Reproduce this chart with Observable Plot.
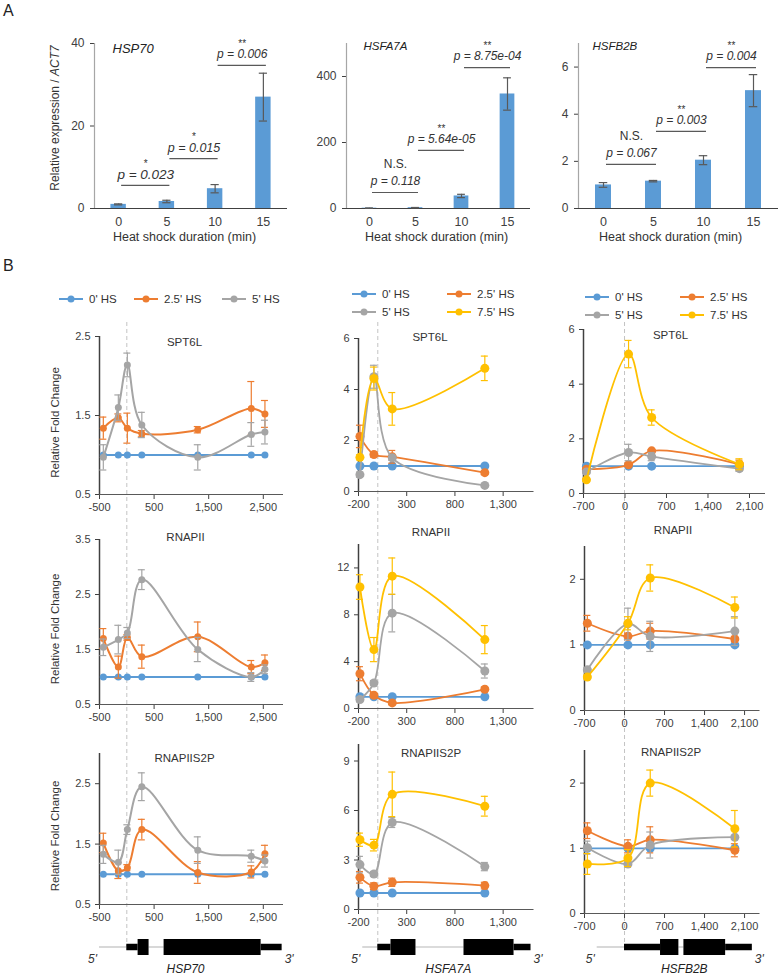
<!DOCTYPE html>
<html><head><meta charset="utf-8">
<script src="https://cdn.jsdelivr.net/npm/d3@7"></script>
<script src="https://cdn.jsdelivr.net/npm/@observablehq/plot@0.6"></script>
<style>
body{margin:0;background:#fff;}
#fig{position:relative;width:781px;height:975px;font-family:Arial,"Liberation Sans",Helvetica,sans-serif;color:#222;overflow:hidden;background:#fff}
#fig svg{overflow:visible}
.lab{position:absolute;font-size:16px;line-height:16px;color:#222}
.leg{position:absolute;display:flex;align-items:center;gap:4px;font-size:11.5px;line-height:14px;color:#333;white-space:nowrap}
.ylab{position:absolute;font-size:12px;color:#333;white-space:nowrap;transform:translate(-50%,-50%) rotate(-90deg)}
</style></head><body><div id="fig"></div>
<script>
// ---------- Panel A data ----------
const durations = ["0", "5", "10", "15"];
const hsp70Expr = [1.0, 1.7, 4.8, 27.0];
const hsp70Err = [0.12, 0.3, 1.0, 5.8];
const hsfa7aExpr = [1.0, 2.5, 38, 347];
const hsfa7aErr = [0.3, 0.6, 5, 49];
const hsfb2bExpr = [1.0, 1.16, 2.05, 5.0];
const hsfb2bErr = [0.1, 0.03, 0.19, 0.68];
const hsp70P = ["p = 0.023", "p = 0.015", "p = 0.006"];
const hsp70Sig = ["*", "*", "**"];
const hsfa7aP = ["p = 0.118", "p = 5.64e-05", "p = 8.75e-04"];
const hsfa7aSig = ["N.S.", "**", "**"];
const hsfb2bP = ["p = 0.067", "p = 0.003", "p = 0.004"];
const hsfb2bSig = ["N.S.", "**", "**"];

// ---------- Panel B data ----------
const seriesNames = ["0' HS", "2.5' HS", "5' HS", "7.5' HS"];
const seriesColors = ["#5b9bd5", "#ed7d31", "#a5a5a5", "#ffc000"];
const hsp70Pos = [-430, -155, 10, 275, 1300, 2280, 2530];
const hsfa7aPos = [-185, -40, 150, 1110];
const hsfb2bPos = [-650, 60, 450, 1930];

const hsp70SPT6L = [[1,1,1,1,1,1,1],[1.34,1.47,1.34,1.27,1.32,1.59,1.52],[0.97,1.60,2.14,1.38,0.97,1.26,1.29]];
const hsp70SPT6LErr = [[0,0,0,0,0,0,0],[0.14,0.05,0.19,0.04,0.04,0.34,0.17],[0.16,0.16,0.15,0.16,0.16,0.15,0.15]];
const hsp70RNAPII = [[1,1,1,1,1,1,1],[1.70,1.18,1.72,1.37,1.73,1.18,1.26],[1.54,1.68,1.80,2.77,1.50,1.00,1.14]];
const hsp70RNAPIIErr = [[0,0,0,0,0,0,0],[0.18,0.2,0.05,0.21,0.27,0.12,0.14],[0.15,0.26,0.1,0.18,0.22,0.08,0.08]];
const hsp70S2P = [[1,1,1,1,1,1,1],[1.52,1.06,1.11,1.74,1.03,1.04,1.34],[1.33,1.20,1.74,2.45,1.40,1.30,1.22]];
const hsp70S2PErr = [[0,0,0,0,0,0,0],[0.16,0.13,0.05,0.17,0.18,0.1,0.14],[0.15,0.2,0.08,0.23,0.22,0.1,0.1]];

const hsfa7aSPT6L = [[1,1,1,1],[2.16,1.45,1.36,0.74],[0.66,4.50,1.32,0.24],[1.34,4.43,3.24,4.83]];
const hsfa7aSPT6LErr = [[0,0,0,0],[0.44,0.1,0.25,0.08],[0.1,0.45,0.1,0.05],[0.1,0.45,0.64,0.48]];
const hsfa7aRNAPII = [[1,1,1,1],[2.97,1.13,0.48,1.64],[0.76,2.18,8.14,3.2],[10.37,5.03,11.3,5.88]];
const hsfa7aRNAPIIErr = [[0,0,0,0],[0.6,0.2,0.15,0.2],[0.2,0.2,1.6,0.6],[1.05,1.03,1.55,1.2]];
const hsfa7aS2P = [[1,1,1,1],[1.95,1.41,1.65,1.45],[2.72,2.15,5.27,2.6],[4.23,3.9,6.98,6.26]];
const hsfa7aS2PErr = [[0,0,0,0],[0.35,0.2,0.25,0.2],[0.5,0.15,0.3,0.25],[0.4,0.35,1.35,0.6]];

const hsfb2bSPT6L = [[1,1,1,1],[0.89,1.05,1.56,1.07],[0.79,1.50,1.35,0.91],[0.50,5.10,2.78,1.07]];
const hsfb2bSPT6LErr = [[0,0,0,0],[0.05,0.05,0.05,0.15],[0.05,0.3,0.15,0.1],[0.05,0.5,0.28,0.2]];
const hsfb2bRNAPII = [[1,1,1,1],[1.33,1.13,1.21,1.09],[0.62,1.32,1.13,1.21],[0.51,1.33,2.02,1.57]];
const hsfb2bRNAPIIErr = [[0,0,0,0],[0.12,0.05,0.12,0.04],[0.03,0.24,0.23,0.22],[0.03,0.1,0.2,0.16]];
const hsfb2bS2P = [[1,1,1,1],[1.27,1.03,1.13,0.97],[1.01,0.76,1.05,1.17],[0.76,0.85,2.0,1.3]];
const hsfb2bS2PErr = [[0,0,0,0],[0.12,0.1,0.2,0.1],[0.1,0.05,0.2,0.03],[0.16,0.13,0.2,0.28]];

// gene structures (bp relative to TSS): [start, end, feature]
const hsp70Gene = [[-500,0,"flank"],[0,207,"utr"],[207,408,"exon"],[408,683,"intron"],[683,2460,"exon"],[2460,2845,"utr"]];
const hsfa7aGene = [[-156,0,"flank"],[0,137,"utr"],[137,396,"exon"],[396,894,"intron"],[894,1413,"exon"],[1413,1589,"utr"]];
const hsfb2bGene = [[-478,0,"flank"],[0,630,"utr"],[630,951,"exon"],[951,1039,"intron"],[1039,1769,"exon"],[1769,2236,"utr"]];

// ---------- helpers ----------
const FONT = "Arial, 'Liberation Sans', Helvetica, sans-serif";
const fig = document.getElementById("fig");
function place(svg, left, top) {
  svg.style.position = "absolute";
  svg.style.left = left + "px";
  svg.style.top = top + "px";
  fig.appendChild(svg);
}
function html(cls, text, left, top) {
  const d = document.createElement("div");
  d.className = cls; d.innerHTML = text;
  d.style.left = left + "px"; d.style.top = top + "px";
  fig.appendChild(d);
  return d;
}
const numFmt = d => d.toLocaleString("en-US");

// ---------- gene / dashed-line background ----------
function genePanel(c) {
  const mL = 20, mR = 20, top = 322, lineY = 946.5, mB = 40;
  const segs = c.gene.map(([start, end, type]) => ({start, end, type}));
  const plot = Plot.plot({
    width: c.R - c.L + mL + mR, height: lineY - top + mB,
    marginLeft: mL, marginRight: mR, marginTop: 0, marginBottom: mB,
    x: {domain: c.xDomain, axis: null}, y: {domain: [0, 1], axis: null},
    style: {fontFamily: FONT, background: "transparent", overflow: "visible", color: "#222"},
    marks: [
      Plot.ruleX([0], {stroke: "#c4c4c4", strokeWidth: 1, strokeDasharray: "4,3"}),
      Plot.ruleY(segs.filter(d => d.type === "flank" || d.type === "intron"), {x1: "start", x2: "end", y: 0, stroke: "#cfcfcf", strokeWidth: 1.6}),
      Plot.ruleY(segs.filter(d => d.type === "utr"), {x1: "start", x2: "end", y: 0, stroke: "#000", strokeWidth: 6.5}),
      Plot.ruleY(segs.filter(d => d.type === "exon"), {x1: "start", x2: "end", y: 0, stroke: "#000", strokeWidth: 16}),
      Plot.text([segs[0]], {x: "start", y: 0, text: () => "5'", dx: -7, dy: 12, fontStyle: "italic", fontSize: 12, fill: "#333"}),
      Plot.text([segs[segs.length - 1]], {x: "end", y: 0, text: () => "3'", dx: 7, dy: 12, fontStyle: "italic", fontSize: 12, fill: "#333"}),
      Plot.text([c.name], {text: d => d, frameAnchor: "bottom", lineAnchor: "middle", dx: c.nameDx, dy: 22, fontStyle: "italic", fontWeight: "normal", fontSize: 12, fill: "#222"})
    ]
  });
  place(plot, c.L - mL, top);
}
genePanel({gene: hsp70Gene, name: "HSP70", xDomain: [-500, 2870], L: 99, R: 283, nameDx: -6});
genePanel({gene: hsfa7aGene, name: "HSFA7A", xDomain: [-200, 1620], L: 357.5, R: 533, nameDx: 2});
genePanel({gene: hsfb2bGene, name: "HSFB2B", xDomain: [-700, 2370], L: 583.5, R: 759, nameDx: 12});

// ---------- Panel A ----------
function barPanel(c) {
  const mL = 45, mR = 10, mT = 45, mB = 40;
  const data = durations.map((d, i) => ({i, label: d, v: c.vals[i], e: c.errs[i]}));
  const br = c.pvals.map((t, i) => ({i, t, s: c.sigs[i], level: c.levels[i]}));
  const half = 0.16, cap = 0.085, ec = "#595959";
  const marks = [
    Plot.rect(data, {x1: d => d.i - half, x2: d => d.i + half, y1: 0, y2: "v", fill: "#5b9bd5"}),
    Plot.ruleX([-0.5], {stroke: "#a6a6a6", strokeWidth: 1.2}),
    Plot.ruleY([c.yDomain[0]], {stroke: "#404040", strokeWidth: 1.2}),
    Plot.ruleX(data, {x: "i", y1: d => d.v - d.e, y2: d => d.v + d.e, stroke: ec, strokeWidth: 1.2}),
    Plot.ruleY(data, {y: d => d.v - d.e, x1: d => d.i - cap, x2: d => d.i + cap, stroke: ec, strokeWidth: 1.2}),
    Plot.ruleY(data, {y: d => d.v + d.e, x1: d => d.i - cap, x2: d => d.i + cap, stroke: ec, strokeWidth: 1.2}),
    Plot.ruleY(br, {y: "level", x1: "i", x2: d => d.i + 1, dx: 3, stroke: ec, strokeWidth: 1.2}),
    // category tick labels (x axis)
    Plot.text(data, {x: "i", y: c.yDomain[0], text: "label", dy: 13, lineAnchor: "middle", fontSize: 12.5, fill: "#404040"}),
    Plot.text([c.name], {text: d => d, frameAnchor: "top-left", lineAnchor: "middle", textAnchor: "start", dx: c.nameDx, dy: c.nameDy, fontStyle: "italic", fontSize: c.nameSize, fill: "#222"}),
    Plot.text(["Heat shock duration (min)"], {text: d => d, frameAnchor: "bottom", lineAnchor: "middle", dx: c.titleDx, dy: 28, fontSize: 12.5, fill: "#333"})
  ];
  br.forEach((b, k) => {
    marks.push(Plot.text([b], {x: d => d.i + 0.5, y: "level", text: "t", dx: 3, dy: -11, lineAnchor: "middle", fontStyle: "italic", fontSize: c.pSize[k], fill: "#333"}));
    const ns = b.s === "N.S.";
    marks.push(Plot.text([b], {x: d => d.i + 0.5, y: "level", text: "s", dx: 3, dy: ns ? -28 : -22, lineAnchor: "middle", fontSize: ns ? 12 : 10, fill: "#333"}));
  });
  const plot = Plot.plot({
    width: c.R - c.L + mL + mR, height: c.B - c.T + mT + mB,
    marginLeft: mL, marginRight: mR, marginTop: mT, marginBottom: mB,
    x: {domain: [-0.5, 3.5], axis: null},
    y: {domain: c.yDomain, ticks: c.yTicks, tickSize: 4, tickPadding: 6, label: null, tickFormat: d => String(d)},
    style: {fontFamily: FONT, fontSize: "12px", color: "#404040", background: "transparent", overflow: "visible"},
    marks
  });
  place(plot, c.L - mL, c.T - mT);
}
barPanel({vals: hsp70Expr, errs: hsp70Err, pvals: hsp70P, sigs: hsp70Sig, levels: [5.6, 12.1, 34.7], pSize: [13.5, 12.5, 12],
  L: 94, R: 287, T: 43, B: 208, yDomain: [0, 40], yTicks: [0, 20, 40], name: "HSP70", nameDx: 18, nameDy: 5, nameSize: 13, titleDx: -6.5});
barPanel({vals: hsfa7aExpr, errs: hsfa7aErr, pvals: hsfa7aP, sigs: hsfa7aSig, levels: [48.5, 176, 427], pSize: [12, 12, 12],
  L: 346, R: 530, T: 43, B: 208, yDomain: [0, 500], yTicks: [0, 200, 400], name: "HSFA7A", nameDx: 17, nameDy: 3, nameSize: 11.5, titleDx: -2});
barPanel({vals: hsfb2bExpr, errs: hsfb2bErr, pvals: hsfb2bP, sigs: hsfb2bSig, levels: [1.87, 3.27, 5.98], pSize: [12, 12, 12],
  L: 578, R: 778, T: 43, B: 208, yDomain: [0, 7], yTicks: [0, 2, 4, 6], name: "HSFB2B", nameDx: 14, nameDy: 3, nameSize: 11.5, titleDx: -8});

// ---------- Panel B ----------
function linePanel(c) {
  const mL = 60, mR = 12, mT = 30, mB = 30;
  const sx = (c.R - c.L) / (c.xDomain[1] - c.xDomain[0]);
  const capHalf = 3.5 / sx;
  const marks = [
    Plot.ruleX([c.xDomain[0]], {stroke: "#404040", strokeWidth: 1.5}),
    Plot.ruleY([c.yDomain[0]], {stroke: "#595959", strokeWidth: 1.2})
  ];
  c.means.forEach((m, s) => {
    const pts = c.pos.map((x, i) => ({x, y: m[i], e: c.errs[s][i]}));
    const eb = pts.filter(d => d.e > 0);
    const col = seriesColors[s];
    marks.push(
      Plot.ruleX(eb, {x: "x", y1: d => d.y - d.e, y2: d => d.y + d.e, stroke: col, strokeWidth: 1.2}),
      Plot.ruleY(eb, {y: d => d.y + d.e, x1: d => d.x - capHalf, x2: d => d.x + capHalf, stroke: col, strokeWidth: 1.2}),
      Plot.ruleY(eb, {y: d => d.y - d.e, x1: d => d.x - capHalf, x2: d => d.x + capHalf, stroke: col, strokeWidth: 1.2}),
      Plot.line(pts, {x: "x", y: "y", stroke: col, strokeWidth: c.sw, curve: "catmull-rom"}),
      Plot.dot(pts, {x: "x", y: "y", fill: col, r: c.r})
    );
  });
  marks.push(Plot.text([c.title], {text: d => d, frameAnchor: "top", lineAnchor: "middle", dx: c.titleX - (c.L + c.R) / 2, dy: c.titleY - c.T, fontSize: 11.5, fontWeight: "normal", fill: "#333"}));
  if (c.ylabel) marks.push(Plot.text(["Relative Fold Change"], {text: d => d, frameAnchor: "left", textAnchor: "middle", lineAnchor: "middle", rotate: -90, dx: -44, dy: 7, fontSize: 11.5, fontWeight: "normal", fill: "#333"}));
  const plot = Plot.plot({
    width: c.R - c.L + mL + mR, height: c.B - c.T + mT + mB,
    marginLeft: mL, marginRight: mR, marginTop: mT, marginBottom: mB,
    x: {domain: c.xDomain, ticks: c.xTicks, tickFormat: numFmt, tickSize: 5, tickPadding: 4, label: null},
    y: {domain: c.yDomain, ticks: c.yTicks, tickSize: 4, tickPadding: 5, label: null, tickFormat: d => String(d)},
    style: {fontFamily: FONT, fontSize: "11px", color: "#404040", background: "transparent", overflow: "visible"},
    marks
  });
  place(plot, c.L - mL, c.T - mT);
}
const col1 = {pos: hsp70Pos, xDomain: [-500, 2870], xTicks: [-500, 500, 1500, 2500], L: 99, R: 283, r: 3.5, sw: 2, ylabel: true};
const col2 = {pos: hsfa7aPos, xDomain: [-200, 1620], xTicks: [-200, 300, 800, 1300], L: 357.5, R: 533, r: 4.5, sw: 1.8};
const col3a = {pos: hsfb2bPos, xDomain: [-700, 2370], xTicks: [-700, 0, 700, 1400, 2100], L: 583, R: 765, r: 4.5, sw: 1.8};
const col3 = {...col3a, L: 583.5, R: 759};

linePanel({...col1, means: hsp70SPT6L, errs: hsp70SPT6LErr, T: 336, B: 494, yDomain: [0.5, 2.5], yTicks: [0.5, 1.5, 2.5], title: "SPT6L", titleX: 184, titleY: 342});
linePanel({...col2, means: hsfa7aSPT6L, errs: hsfa7aSPT6LErr, T: 338, B: 491, yDomain: [0, 6], yTicks: [0, 2, 4, 6], title: "SPT6L", titleX: 429, titleY: 337});
linePanel({...col3a, means: hsfb2bSPT6L, errs: hsfb2bSPT6LErr, T: 329, B: 493, yDomain: [0, 6], yTicks: [0, 2, 4, 6], title: "SPT6L", titleX: 670, titleY: 335});

linePanel({...col1, means: hsp70RNAPII, errs: hsp70RNAPIIErr, T: 539, B: 704, yDomain: [0.5, 3.5], yTicks: [0.5, 1.5, 2.5, 3.5], title: "RNAPII", titleX: 185, titleY: 537});
linePanel({...col2, means: hsfa7aRNAPII, errs: hsfa7aRNAPIIErr, T: 544, B: 708, yDomain: [0, 14], yTicks: [0, 4, 8, 12], title: "RNAPII", titleX: 430, titleY: 532});
linePanel({...col3, means: hsfb2bRNAPII, errs: hsfb2bRNAPIIErr, T: 546, B: 710, yDomain: [0, 2.5], yTicks: [0, 1, 2], title: "RNAPII", titleX: 672, titleY: 530});

linePanel({...col1, means: hsp70S2P, errs: hsp70S2PErr, T: 753, B: 904, yDomain: [0.5, 3.0], yTicks: [0.5, 1.5, 2.5], title: "RNAPIIS2P", titleX: 184, titleY: 758});
linePanel({...col2, means: hsfa7aS2P, errs: hsfa7aS2PErr, T: 744, B: 909, yDomain: [0, 10], yTicks: [0, 3, 6, 9], title: "RNAPIIS2P", titleX: 430, titleY: 753});
linePanel({...col3, means: hsfb2bS2P, errs: hsfb2bS2PErr, T: 750, B: 913, yDomain: [0, 2.5], yTicks: [0, 1, 2], title: "RNAPIIS2P", titleX: 670, titleY: 752});

// ---------- labels & legends ----------
html("lab", "A", 3, 3);
html("lab", "B", 3, 258);
html("ylab", "Relative expression / <i>ACT7</i>", 55, 118);

const legendItems = [
  [0, 59, 299], [1, 134, 299], [2, 222, 299],
  [0, 352, 294], [1, 447, 294], [2, 352, 312], [3, 447, 312],
  [0, 585, 297], [1, 680, 297], [2, 585, 315], [3, 680, 315]
];
for (const [s, x, y] of legendItems) {
  const c = seriesColors[s];
  html("leg", `<svg width="26" height="14"><line x1="0" y1="7" x2="24" y2="7" stroke="${c}" stroke-width="2"/><circle cx="12" cy="7" r="3.5" fill="${c}"/></svg><span>${seriesNames[s]}</span>`, x, y - 7);
}
</script></body></html>
